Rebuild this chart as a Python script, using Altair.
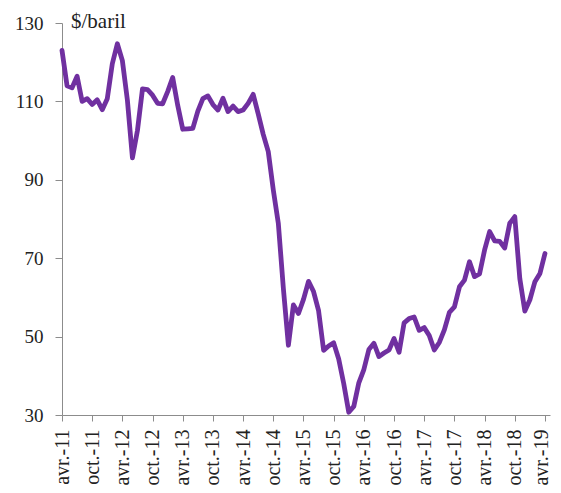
import altair as alt
import pandas as pd

# Monthly Brent price, avr. 2011 -> avr. 2019 ($/baril)
months = pd.date_range("2011-04-01", "2019-04-01", freq="MS").strftime("%Y-%m").tolist()
brent = [
    # 2011 (avr.-déc.)
    123.0, 114.0, 113.5, 116.4, 110.0, 110.7, 109.2, 110.4, 107.9,
    # 2012
    110.7, 119.6, 124.7, 120.4, 110.3, 95.6, 102.6, 113.2, 113.0, 111.6, 109.5, 109.4,
    # 2013
    112.5, 116.1, 109.0, 102.9, 103.0, 103.1, 107.5, 110.7, 111.4, 109.2, 107.8, 110.8,
    # 2014
    107.4, 108.8, 107.4, 107.8, 109.5, 111.8, 106.8, 101.6, 97.2, 87.4, 78.9, 62.3,
    # 2015
    47.8, 58.1, 55.9, 59.5, 64.1, 61.5, 56.6, 46.5, 47.6, 48.4, 44.3, 38.0,
    # 2016
    30.7, 32.2, 38.2, 41.6, 46.7, 48.3, 44.9, 45.8, 46.6, 49.5, 46.0, 53.5,
    # 2017
    54.6, 55.0, 51.6, 52.3, 50.3, 46.6, 48.5, 51.7, 56.2, 57.6, 62.7, 64.4,
    # 2018
    69.1, 65.3, 66.0, 72.1, 76.8, 74.4, 74.3, 72.6, 78.9, 80.6, 64.8, 56.5,
    # 2019 (janv.-avr.)
    59.4, 64.0, 66.1, 71.2,
]
tick_labels = ["avr.-11", "oct.-11", "avr.-12", "oct.-12", "avr.-13", "oct.-13",
               "avr.-14", "oct.-14", "avr.-15", "oct.-15", "avr.-16", "oct.-16",
               "avr.-17", "oct.-17", "avr.-18", "oct.-18", "avr.-19"]
y_ticks = [30, 50, 70, 90, 110, 130]
unit_label = "$/baril"

df = pd.DataFrame({"month": months, "idx": list(range(len(months))), "price": brent})
tick_values = [i * 6 for i in range(len(tick_labels))]
last_tick = tick_values[-1]
label_expr = "[" + ",".join("'" + t + "'" for t in tick_labels) + "][round(datum.value/6)]"

FONT = "Liberation Serif"
AXIS_COLOR = "#8c8c8c"

line = alt.Chart(df).mark_line(
    color="#7030A0", strokeWidth=4.8, strokeJoin="round", strokeCap="round"
).encode(
    x=alt.X("idx:Q",
            scale=alt.Scale(domain=[0, 97], nice=False, zero=False),
            axis=alt.Axis(values=tick_values, labelExpr=label_expr, title=None,
                          grid=False, labelAngle=270, labelAlign="right",
                          labelBaseline="middle", labelPadding=8, tickSize=6,
                          labelOffset={"condition": {"test": f"datum.value == {last_tick}",
                                                     "value": -3},
                                       "value": 0},
                          domainColor=AXIS_COLOR, tickColor=AXIS_COLOR,
                          labelFont=FONT, labelFontSize=20, labelColor="#222222")),
    y=alt.Y("price:Q",
            scale=alt.Scale(domain=[30, 130], nice=False, zero=False),
            axis=alt.Axis(values=y_ticks, title=None, grid=False, tickSize=7,
                          labelPadding=12, domainColor=AXIS_COLOR, tickColor=AXIS_COLOR,
                          labelFont=FONT, labelFontSize=19, labelColor="#222222")),
)

unit = alt.Chart(pd.DataFrame({"t": [unit_label]})).mark_text(
    align="left", baseline="alphabetic", font=FONT, fontSize=21, color="#222222"
).encode(text="t:N", x=alt.value(9), y=alt.value(5))

chart = alt.layer(line, unit).properties(
    width=488, height=392,
    autosize=alt.AutoSizeParams(type="none"),
    padding={"left": 54, "top": 15, "right": 3, "bottom": 70},
).configure_view(stroke=None)

chart.save("out.html", embed_options={"renderer": "svg", "actions": False})
